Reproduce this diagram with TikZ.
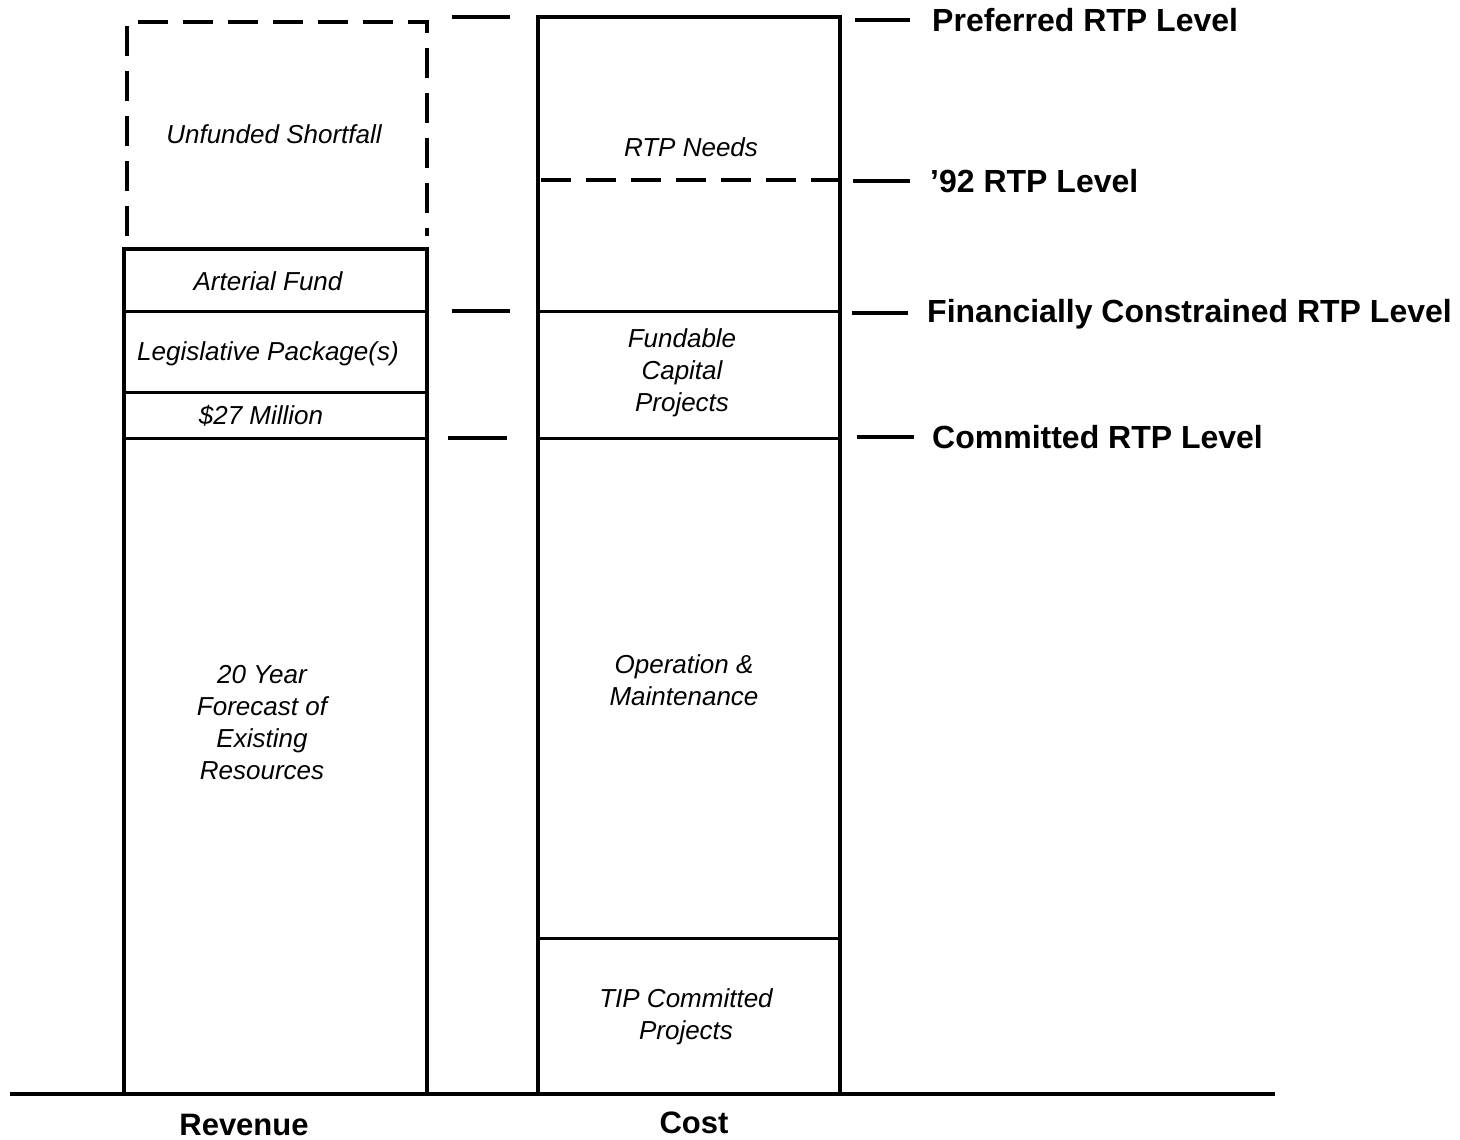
\documentclass[tikz,border=0pt]{standalone}
\usepackage{fontspec}
\setmainfont{Liberation Sans}
\begin{document}
\begin{tikzpicture}[x=1pt,y=-1pt,
  col/.style={line width=4pt},
  div/.style={line width=3pt},
  dsh/.style={line width=4pt, dash pattern=on 30pt off 15pt},
  tickline/.style={line width=4pt},
  lab/.style={font=\fontsize{26}{32}\selectfont\itshape, align=center, inner sep=0pt},
  lvl/.style={font=\fontsize{32}{38}\selectfont\bfseries, anchor=west, inner sep=0pt},
  axl/.style={font=\fontsize{31}{36}\selectfont\bfseries, inner sep=0pt}]
\useasboundingbox (0,0) rectangle (1460,1140);
% ground
\coordinate (g1) at (10,1094);
\coordinate (g2) at (1275,1094);
\draw[line width=4pt] (g1) -- (g2);
% left column (revenue)
\draw[col] (124,1094) -- (124,249) -- (427,249) -- (427,1094);
\draw[div] (124,311) -- (427,311);
\draw[div] (124,392) -- (427,392);
\draw[div] (124,438) -- (427,438);
\draw[dsh] (127,236) -- (127,22) -- (427,22) -- (427,236);
% right column (cost)
\draw[col] (538,1094) -- (538,17) -- (840,17) -- (840,1094);
\draw[line width=3.5pt, dash pattern=on 30pt off 15pt] (541,180) -- (838,180);
\draw[div] (538,311) -- (840,311);
\draw[div] (538,438) -- (840,438);
\draw[div] (538,938) -- (840,938);
% level ticks between columns
\coordinate (a1) at (452,17); \coordinate (a2) at (510,17);
\coordinate (b1) at (452,311); \coordinate (b2) at (510,311);
\coordinate (c1) at (448,438); \coordinate (c2) at (507,438);
\draw[tickline] (a1) -- (a2);
\draw[tickline] (b1) -- (b2);
\draw[tickline] (c1) -- (c2);
% level labels
\node[lvl] (pref) at (932,20) {Preferred RTP Level};
\node[lvl] (n92) at (930,181) {'92 RTP Level};
\node[lvl] (fin) at (927,314) {Financially Constrained RTP Level};
\node[lvl] (com) at (932,437) {Committed RTP Level};
\coordinate (t1) at (855,20);  \coordinate (t1e) at (910,20);
\coordinate (t2) at (853,181); \coordinate (t2e) at (910,181);
\coordinate (t3) at (852,313); \coordinate (t3e) at (908,313);
\coordinate (t4) at (857,437); \coordinate (t4e) at (914,437);
\draw[tickline] (t1) -- (t1e);
\draw[tickline] (t2) -- (t2e);
\draw[tickline] (t3) -- (t3e);
\draw[tickline] (t4) -- (t4e);
% box labels
\node[lab] (uf) at (274,134) {Unfunded Shortfall};
\node[lab] (af) at (268,281) {Arterial Fund};
\node[lab] (lp) at (268,354) {Legislative Package(s)};
\node[lab] (m27) at (261,416) {\$27 Million};
\node[lab] (fc) at (262,723) {20 Year\\Forecast of\\Existing\\Resources};
\node[lab] (rn) at (691,147) {RTP Needs};
\node[lab] (fcp) at (682,373) {Fundable\\Capital\\Projects};
\node[lab] (om) at (684,680) {Operation \&\\Maintenance};
\node[lab] (tip) at (686,1017) {TIP Committed\\Projects};
% axis labels
\node[axl] (rev) at (244,1125) {Revenue};
\node[axl] (cost) at (694,1123) {Cost};
\end{tikzpicture}
\end{document}
